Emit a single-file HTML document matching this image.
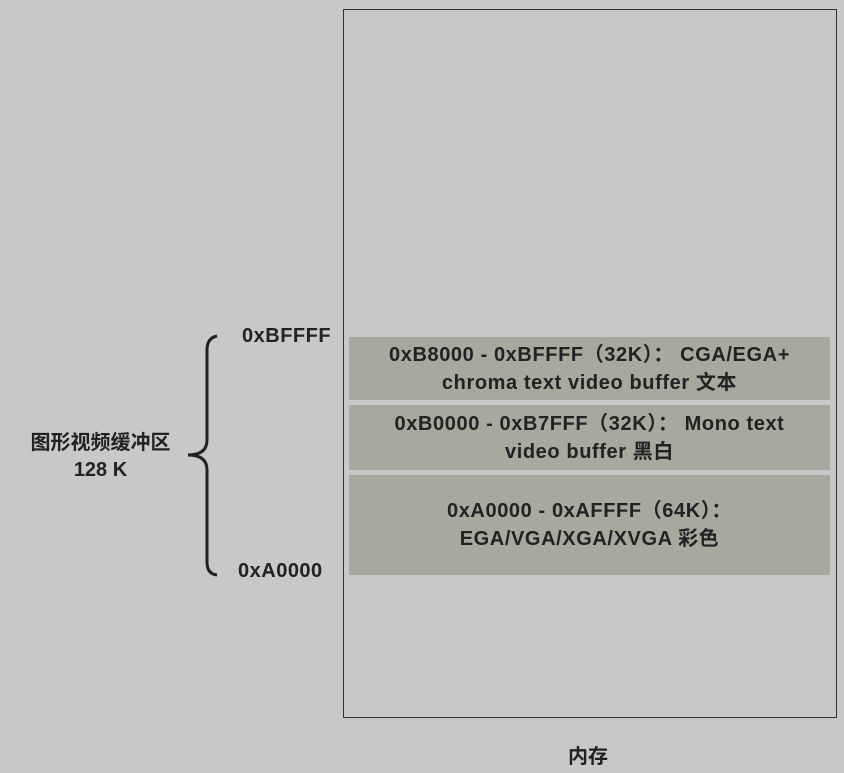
<!DOCTYPE html>
<html><head><meta charset="utf-8"><style>
body{margin:0;width:844px;height:773px;background:#c8c8c8;position:relative;overflow:hidden;font-family:"Liberation Sans","Noto Sans CJK SC",sans-serif;font-weight:bold;color:#222}
.mem{position:absolute;left:343px;top:9px;width:494px;height:709px;border:1px solid #333;box-sizing:border-box}
.b{position:absolute;left:349px;width:481px;background:#a9a89f;display:flex;align-items:center;justify-content:center;text-align:center;font-size:20px;line-height:28px;letter-spacing:0.6px;white-space:nowrap}
.t{position:absolute;font-size:20px;letter-spacing:0.5px}
</style></head><body>
<div class="mem"></div>
<div class="b" style="top:337px;height:63px">0xB8000 - 0xBFFFF（32K）： CGA/EGA+<br>chroma text video buffer 文本</div>
<div class="b" style="top:405px;height:65px">0xB0000 - 0xB7FFF（32K）： Mono text<br>video buffer 黑白</div>
<div class="b" style="top:475px;height:100px">0xA0000 - 0xAFFFF（64K）：<br>EGA/VGA/XGA/XVGA 彩色</div>
<div class="t" style="left:242px;top:325px">0xBFFFF</div>
<div class="t" style="left:238px;top:560px">0xA0000</div>
<div class="t" style="left:18px;top:430px;text-align:center;width:165px;line-height:27px;font-size:20px;letter-spacing:0">图形视频缓冲区<br>128 K</div>
<div class="t" style="left:568px;top:740px;font-size:20px;letter-spacing:0">内存</div>
<svg style="position:absolute;left:0;top:0" width="844" height="773"><path d="M217 336 Q207 338 207 350 L207 440 Q207 455 188 455 Q207 455 207 470 L207 562 Q207 574 217 575" fill="none" stroke="#222" stroke-width="3"/></svg>
</body></html>
